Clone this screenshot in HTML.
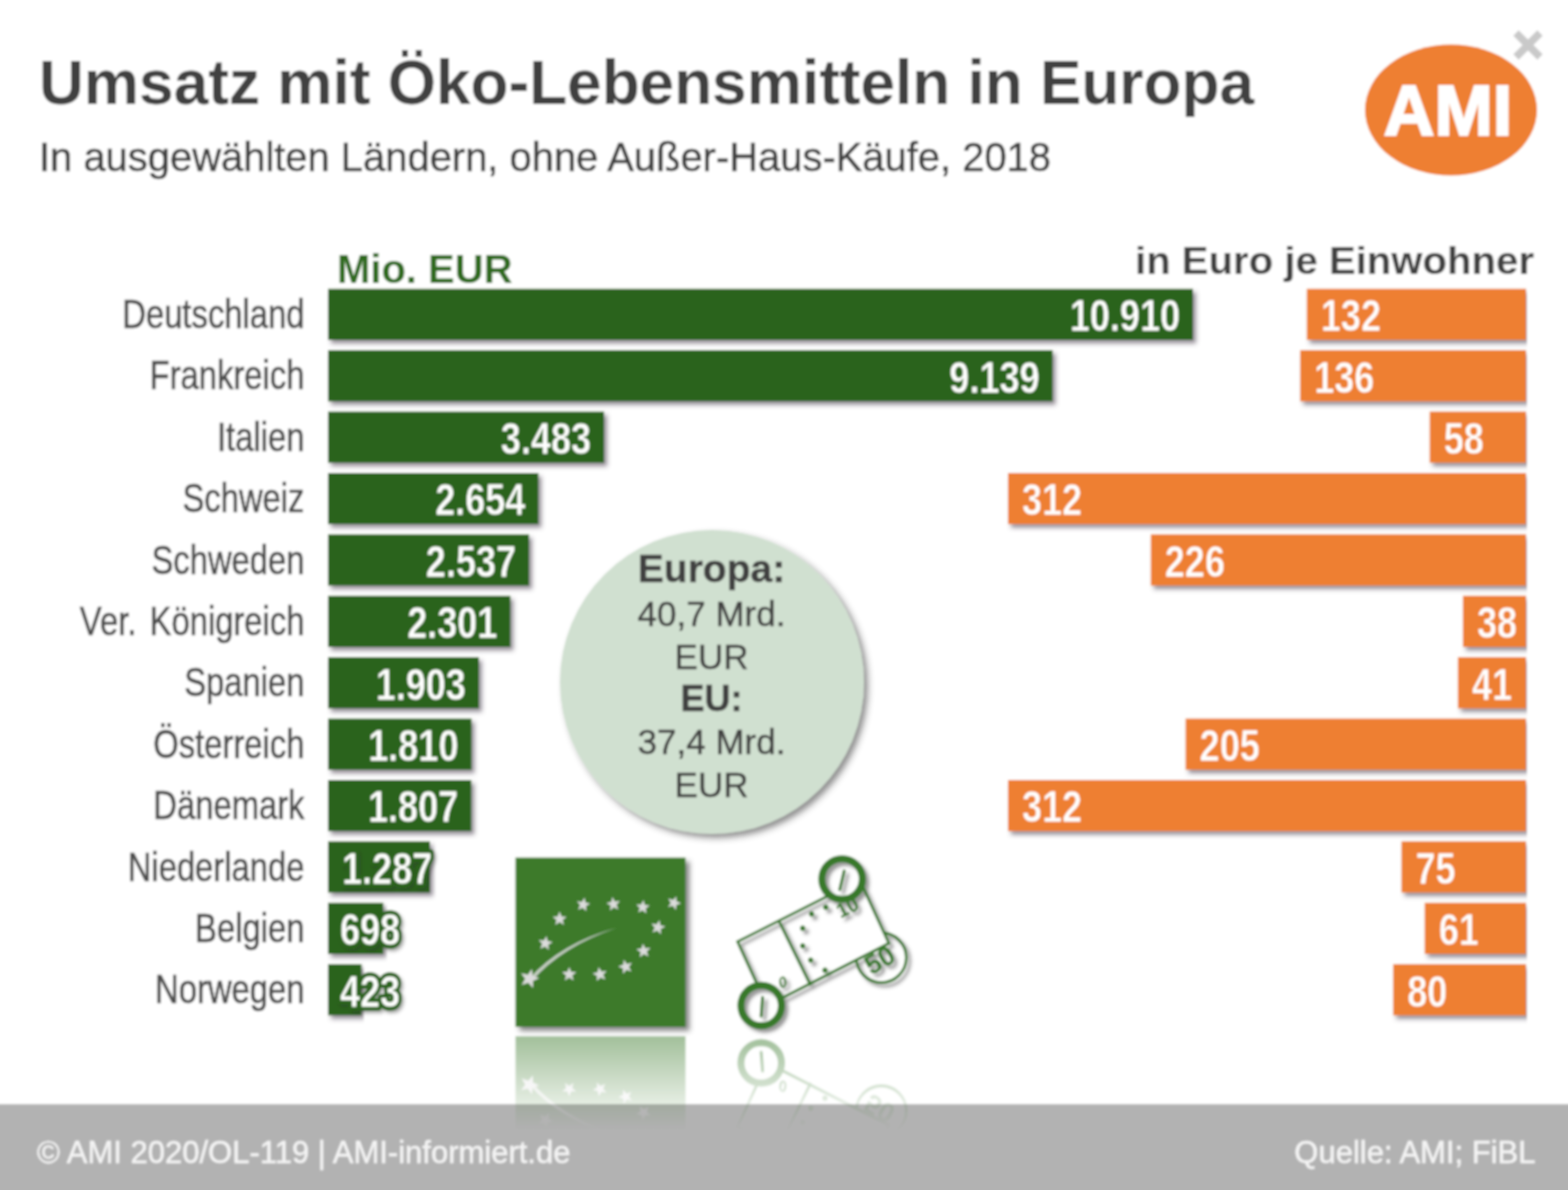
<!DOCTYPE html>
<html lang="de"><head><meta charset="utf-8"><title>Umsatz mit Öko-Lebensmitteln in Europa</title>
<style>
html,body{margin:0;padding:0;background:#fff;}
body{width:1568px;height:1190px;overflow:hidden;font-family:"Liberation Sans",sans-serif;}
svg{display:block;font-family:"Liberation Sans",sans-serif;}
.lab{font-size:40px;fill:#4c4c4c;stroke:#4c4c4c;stroke-width:0.6px;}
.val{font-size:44px;font-weight:bold;fill:#fff;stroke-width:0.5px;}
.vg{stroke:#2c641a;}
.vo{stroke:#ee7f30;}
.valo{font-size:44px;font-weight:bold;fill:#2c641a;stroke:#2c641a;stroke-width:7.6px;stroke-linejoin:round;}
</style></head><body>
<svg width="1568" height="1190" viewBox="0 0 1568 1190">
<defs>
<filter id="sh" x="-5%" y="-20%" width="110%" height="150%"><feDropShadow dx="3" dy="3.5" stdDeviation="2.2" flood-color="#3a3040" flood-opacity="0.55"/></filter>
<filter id="tsh" x="-10%" y="-20%" width="120%" height="150%"><feDropShadow dx="2.5" dy="2.5" stdDeviation="1.8" flood-color="#333" flood-opacity="0.4"/></filter>
<filter id="csh" x="-10%" y="-10%" width="125%" height="125%"><feDropShadow dx="4" dy="4" stdDeviation="3" flood-color="#333" flood-opacity="0.55"/></filter>
<filter id="soft" filterUnits="userSpaceOnUse" x="-20" y="-20" width="1608" height="1230"><feGaussianBlur stdDeviation="0.95"/></filter>
</defs>
<g filter="url(#soft)">
<rect x="-20" y="-20" width="1608" height="1230" fill="#fff"/>

<text x="39" y="103.7" font-size="63" font-weight="bold" fill="#414141" textLength="1215" lengthAdjust="spacingAndGlyphs">Umsatz mit Öko-Lebensmitteln in Europa</text>
<text x="39" y="171.4" font-size="40.3" fill="#414141" stroke="#414141" stroke-width="0.5" textLength="1012" lengthAdjust="spacingAndGlyphs">In ausgewählten Ländern, ohne Außer-Haus-Käufe, 2018</text>
<ellipse cx="1451" cy="110" rx="86" ry="65.5" fill="#ee7f30"/>
<text x="1448" y="135" font-size="70" font-weight="bold" fill="#fff" stroke="#fff" stroke-width="2" text-anchor="middle" letter-spacing="0">AMI</text>
<path d="M1516 33 L1540 57 M1540 33 L1516 57" stroke="#c9c9c9" stroke-width="7.5" fill="none"/>
<text x="337" y="282.5" font-size="40" font-weight="bold" fill="#2d6a1e">Mio. EUR</text>
<text x="1135" y="274.3" font-size="39.5" font-weight="bold" fill="#404040" textLength="399" lengthAdjust="spacingAndGlyphs">in Euro je Einwohner</text>
<clipPath id="pc"><rect x="0" y="280" width="1527" height="760"/></clipPath><g clip-path="url(#pc)">
<rect x="328" y="288.8" width="865.0" height="51.1" fill="#2c641a" filter="url(#sh)"/>
<rect x="1306.8" y="288.8" width="219.2" height="51.1" fill="#ee7f30" filter="url(#sh)"/>
<rect x="328" y="350.2" width="724.6" height="51.1" fill="#2c641a" filter="url(#sh)"/>
<rect x="1300.2" y="350.2" width="225.8" height="51.1" fill="#ee7f30" filter="url(#sh)"/>
<rect x="328" y="411.6" width="276.1" height="51.1" fill="#2c641a" filter="url(#sh)"/>
<rect x="1429.7" y="411.6" width="96.3" height="51.1" fill="#ee7f30" filter="url(#sh)"/>
<rect x="328" y="473.0" width="210.4" height="51.1" fill="#2c641a" filter="url(#sh)"/>
<rect x="1008.0" y="473.0" width="518.0" height="51.1" fill="#ee7f30" filter="url(#sh)"/>
<rect x="328" y="534.4" width="201.1" height="51.1" fill="#2c641a" filter="url(#sh)"/>
<rect x="1150.8" y="534.4" width="375.2" height="51.1" fill="#ee7f30" filter="url(#sh)"/>
<rect x="328" y="595.8" width="182.4" height="51.1" fill="#2c641a" filter="url(#sh)"/>
<rect x="1462.9" y="595.8" width="63.1" height="51.1" fill="#ee7f30" filter="url(#sh)"/>
<rect x="328" y="657.2" width="150.9" height="51.1" fill="#2c641a" filter="url(#sh)"/>
<rect x="1457.9" y="657.2" width="68.1" height="51.1" fill="#ee7f30" filter="url(#sh)"/>
<rect x="328" y="718.6" width="143.5" height="51.1" fill="#2c641a" filter="url(#sh)"/>
<rect x="1185.6" y="718.6" width="340.4" height="51.1" fill="#ee7f30" filter="url(#sh)"/>
<rect x="328" y="780.0" width="143.3" height="51.1" fill="#2c641a" filter="url(#sh)"/>
<rect x="1008.0" y="780.0" width="518.0" height="51.1" fill="#ee7f30" filter="url(#sh)"/>
<rect x="328" y="841.4" width="102.0" height="51.1" fill="#2c641a" filter="url(#sh)"/>
<rect x="1401.5" y="841.4" width="124.5" height="51.1" fill="#ee7f30" filter="url(#sh)"/>
<rect x="328" y="902.8" width="55.3" height="51.1" fill="#2c641a" filter="url(#sh)"/>
<rect x="1424.7" y="902.8" width="101.3" height="51.1" fill="#ee7f30" filter="url(#sh)"/>
<rect x="328" y="964.2" width="33.5" height="51.1" fill="#2c641a" filter="url(#sh)"/>
<rect x="1393.2" y="964.2" width="132.8" height="51.1" fill="#ee7f30" filter="url(#sh)"/>
</g>
<text class="lab" transform="translate(304.5,327.9) scale(0.82,1)" text-anchor="end">Deutschland</text>
<text class="val vg" transform="translate(1180.0,331.1) scale(0.82,1)" text-anchor="end">10.910</text>
<text class="val vo" transform="translate(1320.8,331.1) scale(0.82,1)">132</text>
<text class="lab" transform="translate(304.5,389.3) scale(0.82,1)" text-anchor="end">Frankreich</text>
<text class="val vg" transform="translate(1039.6,392.5) scale(0.82,1)" text-anchor="end">9.139</text>
<text class="val vo" transform="translate(1314.2,392.5) scale(0.82,1)">136</text>
<text class="lab" transform="translate(304.5,450.7) scale(0.82,1)" text-anchor="end">Italien</text>
<text class="val vg" transform="translate(591.1,453.9) scale(0.82,1)" text-anchor="end">3.483</text>
<text class="val vo" transform="translate(1443.7,453.9) scale(0.82,1)">58</text>
<text class="lab" transform="translate(304.5,512.1) scale(0.82,1)" text-anchor="end">Schweiz</text>
<text class="val vg" transform="translate(525.4,515.3) scale(0.82,1)" text-anchor="end">2.654</text>
<text class="val vo" transform="translate(1022.0,515.3) scale(0.82,1)">312</text>
<text class="lab" transform="translate(304.5,573.5) scale(0.82,1)" text-anchor="end">Schweden</text>
<text class="val vg" transform="translate(516.1,576.7) scale(0.82,1)" text-anchor="end">2.537</text>
<text class="val vo" transform="translate(1164.8,576.7) scale(0.82,1)">226</text>
<text class="lab" word-spacing="5" transform="translate(304.5,634.9) scale(0.82,1)" text-anchor="end">Ver. Königreich</text>
<text class="val vg" transform="translate(497.4,638.1) scale(0.82,1)" text-anchor="end">2.301</text>
<text class="val vo" transform="translate(1476.9,638.1) scale(0.82,1)">38</text>
<text class="lab" transform="translate(304.5,696.3) scale(0.82,1)" text-anchor="end">Spanien</text>
<text class="val vg" transform="translate(465.9,699.5) scale(0.82,1)" text-anchor="end">1.903</text>
<text class="val vo" transform="translate(1471.9,699.5) scale(0.82,1)">41</text>
<text class="lab" transform="translate(304.5,757.7) scale(0.82,1)" text-anchor="end">Österreich</text>
<text class="val vg" transform="translate(458.5,760.9) scale(0.82,1)" text-anchor="end">1.810</text>
<text class="val vo" transform="translate(1199.6,760.9) scale(0.82,1)">205</text>
<text class="lab" transform="translate(304.5,819.1) scale(0.82,1)" text-anchor="end">Dänemark</text>
<text class="val vg" transform="translate(458.3,822.3) scale(0.82,1)" text-anchor="end">1.807</text>
<text class="val vo" transform="translate(1022.0,822.3) scale(0.82,1)">312</text>
<text class="lab" transform="translate(304.5,880.5) scale(0.82,1)" text-anchor="end">Niederlande</text>
<text class="valo" filter="url(#tsh)" transform="translate(342,883.7) scale(0.82,1)">1.287</text>
<text class="val vg" transform="translate(342,883.7) scale(0.82,1)">1.287</text>
<text class="val vo" transform="translate(1415.5,883.7) scale(0.82,1)">75</text>
<text class="lab" transform="translate(304.5,941.9) scale(0.82,1)" text-anchor="end">Belgien</text>
<text class="valo" filter="url(#tsh)" transform="translate(340,945.1) scale(0.82,1)">698</text>
<text class="val vg" transform="translate(340,945.1) scale(0.82,1)">698</text>
<text class="val vo" transform="translate(1438.7,945.1) scale(0.82,1)">61</text>
<text class="lab" transform="translate(304.5,1003.3) scale(0.82,1)" text-anchor="end">Norwegen</text>
<text class="valo" filter="url(#tsh)" transform="translate(340,1006.5) scale(0.82,1)">423</text>
<text class="val vg" transform="translate(340,1006.5) scale(0.82,1)">423</text>
<text class="val vo" transform="translate(1407.2,1006.5) scale(0.82,1)">80</text>
<circle cx="712" cy="682" r="152" fill="#d0e0d0" filter="url(#csh)"/>
<text x="711.5" y="582.4" font-size="39" font-weight="bold" fill="#404040" stroke="#404040" stroke-width="0.4" text-anchor="middle">Europa:</text>
<text x="711.5" y="626" font-size="35" fill="#404040" stroke="#404040" stroke-width="0.4" text-anchor="middle">40,7 Mrd.</text>
<text x="711.5" y="668.7" font-size="35" fill="#404040" stroke="#404040" stroke-width="0.4" text-anchor="middle">EUR</text>
<text x="711.5" y="711" font-size="36" font-weight="bold" fill="#404040" stroke="#404040" stroke-width="0.4" text-anchor="middle">EU:</text>
<text x="711.5" y="754" font-size="35" fill="#404040" stroke="#404040" stroke-width="0.4" text-anchor="middle">37,4 Mrd.</text>
<text x="711.5" y="796.5" font-size="35" fill="#404040" stroke="#404040" stroke-width="0.4" text-anchor="middle">EUR</text>
<defs><clipPath id="oc"><path clip-rule="evenodd" d="M400 700H1100V1200H400ZM821.8000000000001 879a20.3 20.3 0 1 0 40.6 0a20.3 20.3 0 1 0 -40.6 0ZM740.9000000000001 1005.5a20.3 20.3 0 1 0 40.6 0a20.3 20.3 0 1 0 -40.6 0Z"/></clipPath><clipPath id="on"><path clip-rule="evenodd" d="M400 700H1100V1200H400ZM737.6 941.6L859.8 879.9L888.9 943.3L767 1005.7Z"/></clipPath><g id="eu"><rect x="515.5" y="857.6" width="170" height="169.2" fill="#3c7a2c"/>
<g fill="#dcdcdc">
<polygon points="584.5,897.6 585.4,902.6 590.3,903.7 585.9,906.1 586.4,911.2 582.7,907.7 578.0,909.7 580.2,905.1 576.8,901.3 581.9,902.0"/>
<polygon points="612.4,897.1 614.8,901.5 619.9,901.0 616.4,904.7 618.4,909.4 613.8,907.2 610.0,910.6 610.7,905.5 606.3,902.9 611.3,902.0"/>
<polygon points="643.4,900.0 644.8,904.9 649.8,905.6 645.6,908.4 646.5,913.4 642.5,910.2 638.1,912.6 639.9,907.9 636.2,904.4 641.2,904.6"/>
<polygon points="676.4,896.2 676.4,901.3 681.1,903.3 676.3,904.9 675.9,909.9 672.9,905.8 667.9,907.0 670.9,902.9 668.2,898.6 673.1,900.1"/>
<polygon points="659.5,920.1 660.2,925.3 665.4,926.6 660.6,929.0 661.0,934.3 657.2,930.5 652.3,932.4 654.8,927.7 651.4,923.6 656.6,924.5"/>
<polygon points="642.9,943.4 645.2,948.2 650.5,948.0 646.7,951.6 648.5,956.6 643.9,954.0 639.7,957.3 640.7,952.1 636.3,949.2 641.5,948.5"/>
<polygon points="623.8,959.6 626.8,963.9 632.0,962.7 628.8,967.0 631.5,971.5 626.5,969.8 623.0,973.8 623.1,968.5 618.2,966.4 623.3,964.8"/>
<polygon points="598.7,967.0 601.4,971.6 606.6,970.9 603.1,974.8 605.4,979.6 600.5,977.5 596.7,981.1 597.2,975.9 592.6,973.4 597.7,972.2"/>
<polygon points="569.2,966.9 571.1,971.9 576.3,972.1 572.2,975.4 573.6,980.5 569.2,977.5 564.8,980.5 566.2,975.4 562.1,972.1 567.3,971.9"/>
<polygon points="532.0,968.9 532.7,976.0 539.4,978.1 532.9,980.9 533.0,987.9 528.3,982.7 521.6,984.9 525.2,978.8 521.0,973.2 527.9,974.7"/>
<polygon points="546.4,935.9 547.6,941.0 552.8,942.0 548.2,944.7 548.9,949.9 545.0,946.4 540.2,948.7 542.3,943.8 538.7,940.0 543.9,940.5"/>
<polygon points="559.6,911.5 561.5,916.5 566.7,916.7 562.6,920.0 564.0,925.1 559.6,922.1 555.2,925.1 556.6,920.0 552.5,916.7 557.7,916.5"/>
<path d="M529 979 Q560 943.5 617 927.8 Q562.5 946 531.8 981 Z" fill-opacity="0.85"/>
</g></g><g id="note"><g clip-path="url(#on)">
<circle cx="881.3" cy="957.6" r="25" fill="none" stroke="#38792a" stroke-width="2.7"/>
<text transform="translate(884.3,968) rotate(-30)" font-size="27" font-weight="bold" fill="#38792a" text-anchor="middle">50</text>
</g>
<g clip-path="url(#oc)">
<g fill="none" stroke="#38792a" stroke-width="2.7">
<path d="M737.6 941.6L859.8 879.9L888.9 943.3L767 1005.7Z"/>
<line x1="778.8" y1="920.6" x2="810.7" y2="985.3"/>
</g>
<text transform="translate(850.5,913.5) rotate(-27)" font-size="20" font-weight="bold" fill="#38792a" text-anchor="middle">10</text>
</g>
<g fill="#38792a">
<circle cx="825.8" cy="907.2" r="2.6"/>
<circle cx="811.6" cy="913.9" r="2.6"/>
<circle cx="802.7" cy="928.2" r="2.6"/>
<circle cx="802.7" cy="945.8" r="2.6"/>
<circle cx="810.7" cy="960.1" r="2.6"/>
<circle cx="825" cy="970.2" r="2.6"/>
</g>
<text transform="translate(784.5,987) rotate(-20)" font-size="15" font-style="italic" font-weight="bold" fill="#38792a" text-anchor="middle">0</text>
<g fill="none" stroke="#38792a" stroke-width="7">
<circle cx="842.1" cy="879" r="20.3"/>
<circle cx="761.2" cy="1005.5" r="20.3"/>
</g>
<g fill="none" stroke="#38792a" stroke-width="3" stroke-linecap="round">
<line x1="844.2" y1="871" x2="839.8" y2="889.5"/>
<line x1="762.6" y1="997.5" x2="761.2" y2="1016"/>
</g></g>
<filter id="ish" x="-10%" y="-10%" width="125%" height="125%"><feDropShadow dx="4" dy="4" stdDeviation="2.5" flood-color="#333" flood-opacity="0.6"/></filter>
<linearGradient id="rg1" x1="0" y1="1036" x2="0" y2="1130" gradientUnits="userSpaceOnUse"><stop offset="0" stop-color="#fff" stop-opacity="0.48"/><stop offset="1" stop-color="#fff" stop-opacity="0"/></linearGradient>
<mask id="rm1" maskUnits="userSpaceOnUse" x="490" y="1030" width="460" height="160"><rect x="490" y="1030" width="460" height="160" fill="url(#rg1)"/></mask>
</defs>
<use href="#eu" filter="url(#ish)"/>
<filter id="nsh" x="-10%" y="-10%" width="125%" height="125%"><feDropShadow dx="3.5" dy="3.5" stdDeviation="1.8" flood-color="#333" flood-opacity="0.5"/></filter>
<use href="#note" filter="url(#nsh)"/>
<rect x="-20" y="1104.2" width="1608" height="106" fill="#b2b2b2"/>
<g mask="url(#rm1)"><g transform="translate(0,2063.5) scale(1,-1)"><use href="#eu"/></g><g transform="translate(0,2068.5) scale(1,-1)"><use href="#note"/></g></g>
<text x="37" y="1163" font-size="31" fill="#f4f4f4" stroke="#f4f4f4" stroke-width="0.4">© AMI 2020/OL-119 | AMI-informiert.de</text>
<text x="1535.5" y="1163" font-size="31" fill="#f4f4f4" stroke="#f4f4f4" stroke-width="0.4" text-anchor="end">Quelle: AMI; FiBL</text>
</g></svg></body></html>
